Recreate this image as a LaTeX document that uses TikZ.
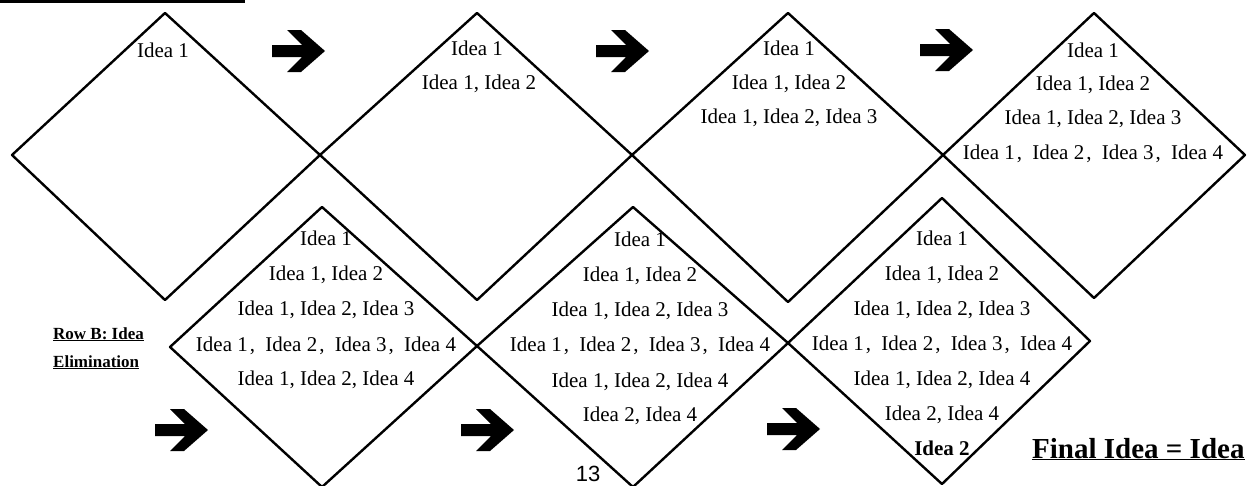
\documentclass[tikz,border=0pt]{standalone}
\usepackage{fontspec}
\setmainfont{Liberation Serif}
\newfontfamily\pagenumfont{Liberation Sans}
\newcommand\fourline{Idea 1\kern2pt, \kern5pt Idea 2\kern2pt, \kern5pt Idea 3\kern2pt, \kern5pt Idea 4}
\begin{document}
\begin{tikzpicture}[x=1pt,y=-1pt,
  diam/.style={draw=black, line width=2.4pt, line join=round},
  idea/.style={font=\fontsize{21}{25}\selectfont, inner sep=0pt, anchor=base},
  rowlabel/.style={font=\fontsize{17}{20}\selectfont\bfseries, inner sep=0pt, anchor=base west},
  blockarrow/.pic={\fill[black] (0,-6) -- (30,-6) -- (15,-21) -- (29,-21) -- (53,0) -- (29,21) -- (15,21) -- (30,6) -- (0,6) -- cycle;}]
\useasboundingbox (0,0) rectangle (1248,485);
\fill[white] (0,0) rectangle (1248,485);

% cropped underline at top left
\draw[line width=3pt] (0,1.5) -- (245,1.5);

% top row diamonds
\draw[diam] (12,155) -- (165,13) -- (320,155) -- (165,300) -- cycle;
\draw[diam] (320,155) -- (477,13) -- (632,155) -- (477,300) -- cycle;
\draw[diam] (632,155) -- (788,13) -- (943,155) -- (788,302) -- cycle;
\draw[diam] (943,155) -- (1094,13) -- (1245,155) -- (1094,298) -- cycle;

% bottom row diamonds
\draw[diam] (170,347) -- (322,207) -- (477,346) -- (322,487) -- cycle;
\draw[diam] (477,346) -- (633,207) -- (788,343) -- (633,487) -- cycle;
\draw[diam] (788,343) -- (942,198) -- (1090,341) -- (942,484) -- cycle;

% block arrows
\pic at (272,51) {blockarrow};
\pic at (596,51) {blockarrow};
\pic at (920,50) {blockarrow};
\pic at (155,430) {blockarrow};
\pic at (461,430) {blockarrow};
\pic at (767,429) {blockarrow};

% top row texts
\node[idea] (d1a) at (163,57) {Idea 1};

\node[idea] (d2a) at (477,55) {Idea 1};
\node[idea] (d2b) at (479,89) {Idea 1, Idea 2};

\node[idea] (d3a) at (789,55) {Idea 1};
\node[idea] (d3b) at (789,89) {Idea 1, Idea 2};
\node[idea] (d3c) at (789,123) {Idea 1, Idea 2, Idea 3};

\node[idea] (d4a) at (1093,57) {Idea 1};
\node[idea] (d4b) at (1093,90) {Idea 1, Idea 2};
\node[idea] (d4c) at (1093,124) {Idea 1, Idea 2, Idea 3};
\node[idea] (d4d) at (1093,159) {\fourline};

% bottom row texts
\node[idea] (b1a) at (326,245) {Idea 1};
\node[idea] (b1b) at (326,280) {Idea 1, Idea 2};
\node[idea] (b1c) at (326,315) {Idea 1, Idea 2, Idea 3};
\node[idea] (b1d) at (326,351) {\fourline};
\node[idea] (b1e) at (326,385) {Idea 1, Idea 2, Idea 4};

\node[idea] (b2a) at (640,246) {Idea 1};
\node[idea] (b2b) at (640,281) {Idea 1, Idea 2};
\node[idea] (b2c) at (640,316) {Idea 1, Idea 2, Idea 3};
\node[idea] (b2d) at (640,351) {\fourline};
\node[idea] (b2e) at (640,387) {Idea 1, Idea 2, Idea 4};
\node[idea] (b2f) at (640,421) {Idea 2, Idea 4};

\node[idea] (b3a) at (942,245) {Idea 1};
\node[idea] (b3b) at (942,280) {Idea 1, Idea 2};
\node[idea] (b3c) at (942,315) {Idea 1, Idea 2, Idea 3};
\node[idea] (b3d) at (942,350) {\fourline};
\node[idea] (b3e) at (942,385) {Idea 1, Idea 2, Idea 4};
\node[idea] (b3f) at (942,420) {Idea 2, Idea 4};
\node[idea, font=\fontsize{21}{25}\selectfont\bfseries] (b3g) at (942,455) {Idea 2};

% labels
\node[rowlabel] (rowb1) at (53,339) {\underline{Row B: Idea}};
\node[rowlabel] (rowb2) at (53,367) {\underline{Elimination}};
\node[font=\fontsize{29}{34}\selectfont\bfseries, inner sep=0pt, anchor=base west] (final) at (1032,458) {\underline{Final Idea = Idea}};
\node[font=\fontsize{22}{26}\pagenumfont, inner sep=0pt, anchor=base] (pnum) at (588,481) {13};
\end{tikzpicture}
\end{document}
